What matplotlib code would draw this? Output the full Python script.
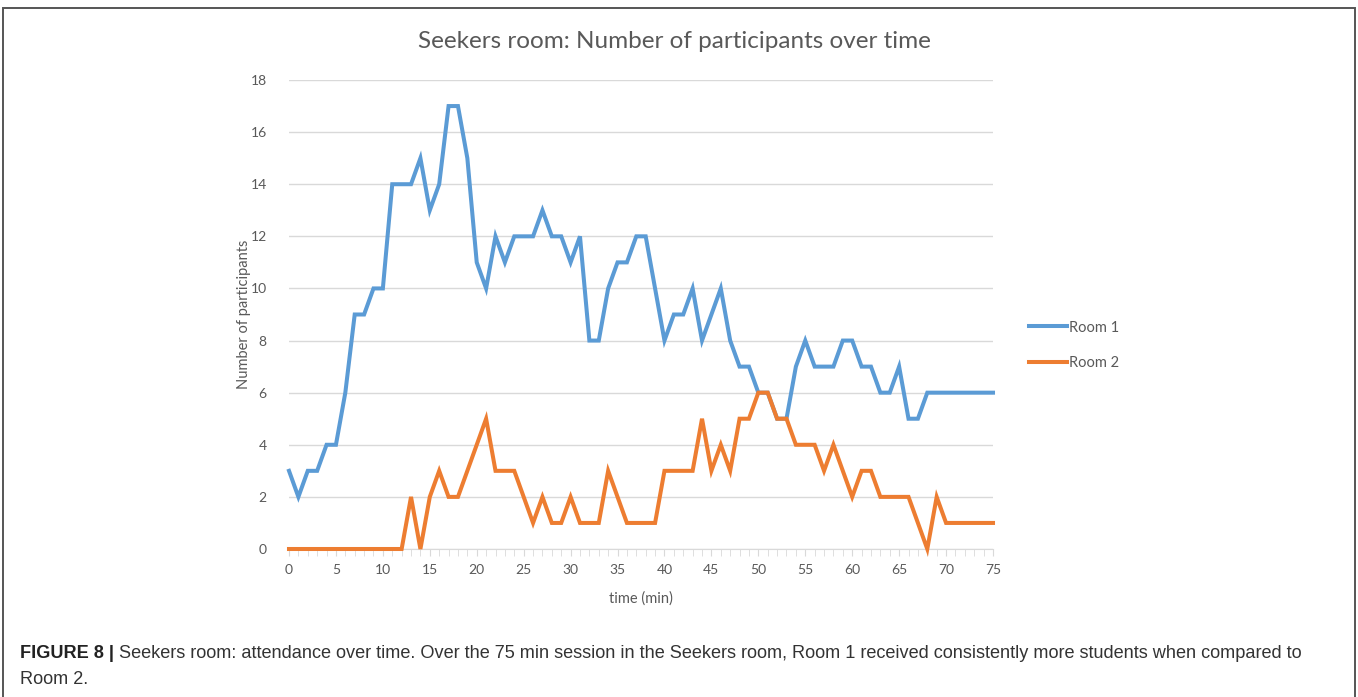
import matplotlib.pyplot as plt
from matplotlib.patches import Rectangle

minutes = list(range(76))
room1 = [3, 2, 3, 3, 4, 4, 6, 9, 9, 10, 10, 14, 14, 14, 15, 13, 14, 17, 17, 15,
         11, 10, 12, 11, 12, 12, 12, 13, 12, 12, 11, 12, 8, 8, 10, 11, 11, 12, 12, 10,
         8, 9, 9, 10, 8, 9, 10, 8, 7, 7, 6, 6, 5, 5, 7, 8, 7, 7, 7, 8,
         8, 7, 7, 6, 6, 7, 5, 5, 6, 6, 6, 6, 6, 6, 6, 6]
room2 = [0, 0, 0, 0, 0, 0, 0, 0, 0, 0, 0, 0, 0, 2, 0, 2, 3, 2, 2, 3,
         4, 5, 3, 3, 3, 2, 1, 2, 1, 1, 2, 1, 1, 1, 3, 2, 1, 1, 1, 1,
         3, 3, 3, 3, 5, 3, 4, 3, 5, 5, 6, 6, 5, 5, 4, 4, 4, 3, 4, 3,
         2, 3, 3, 2, 2, 2, 2, 1, 0, 2, 1, 1, 1, 1, 1, 1]
xticks = list(range(0, 76, 5))
yticks = list(range(0, 19, 2))

W, H = 1358, 697
fig = plt.figure(figsize=(W / 100, H / 100), dpi=100)
chart_font = 'Lato'
grey = '#595959'

# outer frame of the figure panel
fig.patches.append(Rectangle((3 / W, -0.01), 1352 / W, 1 - 8 / H + 0.01,
                             transform=fig.transFigure, fill=False,
                             edgecolor='#555555', lw=1.4))

ax = fig.add_axes([289 / W, 1 - 549 / H, 704 / W, 469 / H])
ax.plot(minutes, room1, color='#5B9BD5', lw=2.9, label='Room 1',
        solid_joinstyle='miter', clip_on=False, zorder=3)
ax.plot(minutes, room2, color='#ED7D31', lw=2.9, label='Room 2',
        solid_joinstyle='miter', clip_on=False, zorder=4)

ax.set_xlim(0, 75)
ax.set_ylim(0, 18)
ax.set_xticks(xticks)
ax.set_xticks(minutes, minor=True)
ax.set_yticks(yticks)
ax.grid(axis='y', color='#d9d9d9', lw=1)
ax.set_axisbelow(True)
for s in ['top', 'right', 'left']:
    ax.spines[s].set_visible(False)
ax.spines['bottom'].set_color('#d9d9d9')
ax.tick_params(axis='y', length=0, pad=16, labelsize=10, labelcolor=grey)
ax.tick_params(axis='x', which='major', length=5, color='#d9d9d9', pad=6,
               labelsize=10, labelcolor=grey)
ax.tick_params(axis='x', which='minor', length=5, color='#d9d9d9')
for lab in ax.get_xticklabels() + ax.get_yticklabels():
    lab.set_fontfamily(chart_font)

ax.set_xlabel('time (min)', fontsize=10.5, color=grey, family=chart_font, labelpad=11)
ax.set_ylabel('Number of participants', fontsize=10.5, color=grey,
              family=chart_font, labelpad=0)
fig.text(674 / W, 1 - 42 / H, 'Seekers room: Number of participants over time',
         ha='center', va='center', fontsize=17.5, color=grey, family=chart_font)

ax.legend(loc='center left', bbox_to_anchor=(1.032, 0.434), frameon=False,
          handlelength=2.6, handletextpad=0.15, labelspacing=1.5,
          prop={'family': chart_font, 'size': 10.5}, labelcolor=grey)

# caption
cap_y1 = 1 - 653 / H
cap_y2 = 1 - 679 / H
t = fig.text(20 / W, cap_y1, 'FIGURE 8 |', fontsize=13.1, weight='bold',
             family='Liberation Sans', va='center', color='#222222')
fig.canvas.draw()
bb = t.get_window_extent()
fig.text((bb.x1 + 5) / W, cap_y1,
         'Seekers room: attendance over time. Over the 75 min session in the Seekers room, '
         'Room 1 received consistently more students when compared to',
         fontsize=13.1, family='Liberation Sans', va='center', color='#333333')
fig.text(20 / W, cap_y2, 'Room 2.', fontsize=13.1, family='Liberation Sans',
         va='center', color='#333333')

fig.savefig('out.png', dpi=100)
